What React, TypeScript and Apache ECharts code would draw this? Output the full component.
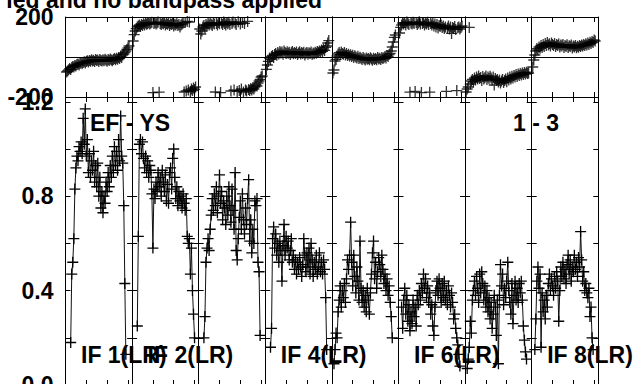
import React, { useEffect, useRef } from 'react';
import * as echarts from 'echarts';

// ---------------- data ----------------
const titleText = 'ied and no bandpass applied';
const baselineText = 'EF - YS';
const sourceText = '1 - 3';
const ifLabels = ['IF 1(LR)', 'IF 2(LR)', 'IF 4(LR)', 'IF 6(LR)', 'IF 8(LR)'];
const ifLabelPanels = [0, 1, 3, 5, 7];

const channelMin = 0;
const channelMax = 64;
const channelTickStep = 20;
const phaseMin = -200;
const phaseMax = 200;
const ampMin = 0;
const ampTickStep = 0.2;
const ampLabelStep = 0.4;

const ampStart = [5, 5, 5, 5, 2, 3, 2, 3];
const amp1 = [0.18,0.47,0.52,0.62,0.83,0.92,0.97,0.95,1.01,0.99,1.03,0.98,1.13,1.02,1.17,0.97,1.04,0.90,0.98,0.88,0.95,0.91,0.99,0.86,0.93,0.84,0.94,0.80,0.88,0.75,0.82,0.73,0.80,0.77,0.86,0.82,0.90,0.84,0.93,0.88,0.97,0.90,1.01,0.93,0.99,0.91,1.04,0.95,1.14,0.97,0.94,0.76,0.43,0.13];
const amp2 = [0.25,0.63,1.02,1.04,0.98,1.03,0.96,0.92,0.97,0.90,0.95,0.88,0.93,0.91,0.81,0.58,0.83,0.79,0.86,0.82,0.90,0.84,0.88,0.80,0.91,0.86,0.82,0.89,0.78,0.85,0.77,0.90,0.92,0.83,0.96,1.00,0.88,0.79,0.84,0.76,0.82,0.78,0.80,0.75,0.81,0.77,0.74,0.79,0.63,0.60,0.62,0.47,0.58,0.40,0.30,0.20];
const amp3 = [0.20,0.29,0.52,0.58,0.62,0.57,0.66,0.72,0.79,0.74,0.81,0.76,0.84,0.73,0.80,0.89,0.77,0.82,0.70,0.78,0.75,0.68,0.80,0.72,0.84,0.76,0.69,0.83,0.74,0.66,0.90,0.57,0.53,0.62,0.71,0.78,0.66,0.81,0.70,0.64,0.75,0.68,0.79,0.87,0.61,0.70,0.56,0.66,0.60,0.78,0.76,0.79,0.52,0.48,0.21];
const amp4 = [0.16,0.24,0.62,0.67,0.58,0.64,0.55,0.60,0.52,0.61,0.57,0.44,0.59,0.68,0.55,0.63,0.58,0.61,0.53,0.57,0.62,0.52,0.55,0.49,0.53,0.47,0.52,0.49,0.54,0.50,0.46,0.51,0.62,0.55,0.48,0.56,0.50,0.58,0.47,0.60,0.53,0.46,0.52,0.49,0.55,0.47,0.50,0.56,0.48,0.52,0.47,0.53,0.49,0.37,0.15];
const amp5 = [0.09,0.15,0.22,0.20,0.31,0.36,0.42,0.33,0.40,0.37,0.43,0.35,0.45,0.53,0.49,0.55,0.69,0.52,0.42,0.55,0.46,0.39,0.50,0.44,0.36,0.61,0.41,0.35,0.40,0.33,0.38,0.31,0.41,0.36,0.30,0.39,0.47,0.56,0.61,0.45,0.52,0.41,0.48,0.54,0.51,0.46,0.55,0.49,0.43,0.47,0.40,0.45,0.38,0.42,0.35,0.29,0.20];
const amp6 = [0.33,0.24,0.36,0.41,0.30,0.38,0.27,0.34,0.23,0.31,0.26,0.36,0.29,0.33,0.25,0.38,0.34,0.40,0.36,0.43,0.39,0.47,0.41,0.45,0.37,0.42,0.35,0.39,0.30,0.34,0.25,0.21,0.33,0.40,0.44,0.38,0.45,0.41,0.35,0.43,0.37,0.44,0.36,0.40,0.34,0.42,0.38,0.33,0.39,0.35,0.28,0.30,0.24,0.20,0.17,0.13,0.08];
const amp7 = [0.07,0.11,0.16,0.27,0.22,0.36,0.40,0.44,0.38,0.46,0.41,0.35,0.47,0.39,0.48,0.43,0.36,0.42,0.33,0.40,0.31,0.37,0.28,0.35,0.24,0.30,0.38,0.33,0.21,0.36,0.09,0.38,0.51,0.42,0.47,0.34,0.41,0.37,0.44,0.52,0.40,0.35,0.30,0.43,0.26,0.38,0.44,0.36,0.41,0.35,0.43,0.39,0.44,0.36,0.25,0.19,0.14,0.11];
const amp8 = [0.15,0.28,0.44,0.50,0.41,0.47,0.16,0.39,0.31,0.36,0.28,0.38,0.33,0.43,0.47,0.40,0.45,0.42,0.38,0.46,0.41,0.48,0.44,0.27,0.40,0.50,0.46,0.52,0.45,0.49,0.43,0.51,0.55,0.47,0.53,0.44,0.50,0.48,0.55,0.49,0.52,0.46,0.54,0.50,0.65,0.53,0.44,0.48,0.40,0.43,0.39,0.37,0.41,0.29,0.33,0.20,0.15];

const phaseStart = [1, 1, 1, 1, 1, 1, 1, 1];
const phase1 = [-75,-70,-64,-58,-62,-52,-47,-50,-42,-45,-38,-35,-40,-32,-28,-34,-27,-24,-30,-22,-19,-25,-18,-21,-14,-20,-16,-23,-13,-18,-15,-22,-12,-17,-20,-14,-19,-11,-16,-21,-13,-18,-10,-15,-19,-12,-8,-14,-6,-11,-3,-7,2,-2,10,15,22,30,38,46,55];
const phase2 = [80,112,130,142,150,155,160,152,163,158,166,160,170,164,168,172,165,170,174,-178,168,172,165,170,175,-176,168,163,170,166,172,160,168,164,170,158,166,162,168,155,164,160,167,158,163,150,160,165,170,-175,172,-170,178,-165,175,-172,-160,-168,-155,-162,-150];
const phase3 = [140,115,130,150,158,145,162,155,168,160,172,164,158,170,165,-175,168,160,172,166,-178,170,163,175,168,160,172,166,174,162,-170,168,175,-165,170,163,-172,176,-168,165,-160,172,-175,168,-165,-170,178,-162,-168,-158,-165,-155,-160,-150,-140,-145,-130,-120,-112,-100,-95];
const phase4 = [-62,-40,-22,-5,-12,3,8,-3,12,18,9,22,15,28,20,25,14,30,22,17,26,19,24,12,21,27,16,23,18,25,13,20,26,15,22,18,24,10,19,23,14,21,17,25,12,20,16,24,19,27,22,30,25,35,28,40,33,48,55,70,82];
const phase5 = [-80,-65,-20,-12,5,15,22,12,25,18,14,22,10,17,8,14,5,11,2,9,-2,6,0,-5,4,-8,-1,-6,-12,-3,-9,-15,-5,-11,-7,-14,-4,-10,-16,-6,-12,-8,-14,-3,-10,-6,-13,-2,-8,-4,2,-5,8,3,12,18,30,50,75,98,110];
const phase6 = [120,148,160,170,165,172,160,175,168,163,-176,170,165,174,168,-172,172,162,170,176,165,-178,168,172,160,170,165,174,162,-176,168,160,170,155,165,150,162,145,158,152,160,148,155,142,150,-172,145,155,140,150,118,148,142,152,138,-168,146,150,140,148,155];
const phase7 = [-175,-160,-150,148,-135,-120,-112,-125,-105,-115,-100,-110,-95,-108,-102,-118,-98,-110,-104,-95,-112,-100,-108,-96,-105,-115,-100,-140,-108,-118,-112,-125,-115,-130,-120,-112,-128,-118,-110,-124,-105,-115,-100,-110,-96,-105,-92,-100,-88,-97,-85,-93,-82,-90,-80,-88,-78,-85,-76,-82,-80];
const phase8 = [-50,-15,10,30,42,35,50,44,58,48,62,53,68,57,72,60,66,55,70,62,58,67,52,63,57,65,50,60,55,62,48,58,53,61,47,56,52,60,45,55,50,58,46,54,49,57,52,60,55,63,57,66,60,70,63,74,68,78,72,85,80];

const amps = [amp1, amp2, amp3, amp4, amp5, amp6, amp7, amp8];
const phases = [phase1, phase2, phase3, phase4, phase5, phase6, phase7, phase8];

// ---------------- layout / style ----------------
const PL = 65.5;
const PW = 66.6;
const PHASE_TOP = 17;
const PHASE_H = 80;
const AMP_TOP = 97;
const AMP_H = 288;
const AMP_PX_PER_UNIT = 236;
const FONT = '"Liberation Sans", Arial, Helvetica, sans-serif';
const FONT_SIZE = 23;
const PLUS = 'path://M0,4.4H4.4V0H5.6V4.4H10V5.6H5.6V10H4.4V5.6H0Z';

function buildOption() {
  const grid: any[] = [];
  const xAxis: any[] = [];
  const yAxis: any[] = [];
  const series: any[] = [];
  const lineStyle = { color: '#000', width: 1 };
  for (let panel = 0; panel < 2; panel++) {
    for (let i = 0; i < 8; i++) {
      const g = panel * 8 + i;
      grid.push({
        left: PL + i * PW,
        top: panel === 0 ? PHASE_TOP : AMP_TOP,
        width: PW,
        height: panel === 0 ? PHASE_H : AMP_H,
        containLabel: false,
        outerBoundsMode: 'none',
      });
      const xBase = {
        type: 'value', gridIndex: g, min: channelMin, max: channelMax, interval: channelTickStep,
        axisLine: { show: true, onZero: false, lineStyle },
        axisTick: { show: true, inside: true, length: 5, lineStyle },
        axisLabel: { show: false }, splitLine: { show: false },
      };
      xAxis.push({ ...xBase, position: 'bottom' });
      xAxis.push({ ...xBase, position: 'top' });
      const isPhase = panel === 0;
      const range = isPhase
        ? { min: phaseMin, max: phaseMax, interval: phaseMax }
        : { min: ampMin, max: AMP_H / AMP_PX_PER_UNIT, interval: ampTickStep };
      const showLabels = i === 0;
      const yBase: any = {
        type: 'value', gridIndex: g, ...range,
        axisLine: { show: true, onZero: false, lineStyle },
        axisTick: { show: true, inside: true, length: 5, lineStyle },
        splitLine: { show: false },
      };
      yAxis.push({
        ...yBase,
        position: 'left',
        splitLine: { show: isPhase, lineStyle },
        axisLabel: {
          show: showLabels, margin: 12, color: '#000', fontSize: FONT_SIZE, fontWeight: 'bold', fontFamily: FONT,
          showMinLabel: true, showMaxLabel: true,
          formatter: isPhase
            ? (v: number) => (v === 0 ? '' : String(v))
            : (v: number) => {
                const r = v / ampLabelStep;
                return Math.abs(r - Math.round(r)) < 1e-6 ? v.toFixed(1) : '';
              },
        },
      });
      yAxis.push({ ...yBase, position: 'right', axisLabel: { show: false } });

      if (isPhase) {
        series.push({
          type: 'scatter', xAxisIndex: 2 * g, yAxisIndex: 2 * g,
          data: phases[i].map((v, k) => [phaseStart[i] + k, v]),
          symbol: PLUS, symbolSize: 11, itemStyle: { color: '#000' }, silent: true,
        });
      } else {
        series.push({
          type: 'line', xAxisIndex: 2 * g, yAxisIndex: 2 * g,
          data: amps[i].map((v, k) => [ampStart[i] + k, v]),
          symbol: PLUS, symbolSize: 11, showSymbol: true, showAllSymbol: true,
          lineStyle: { color: '#111', width: 1 }, itemStyle: { color: '#000' }, silent: true,
        });
      }
    }
  }

  const font = `bold ${FONT_SIZE}px ${FONT}`;
  const graphic: any[] = [
    { type: 'text', x: 322, y: 0, style: { text: titleText, font, fill: '#000', textAlign: 'right', textVerticalAlign: 'middle' } },
    { type: 'text', x: 90, y: 123, style: { text: baselineText, font, fill: '#000', textAlign: 'left', textVerticalAlign: 'middle' } },
    { type: 'text', x: 513, y: 123, style: { text: sourceText, font, fill: '#000', textAlign: 'left', textVerticalAlign: 'middle' } },
  ];
  ifLabels.forEach((t, k) => {
    graphic.push({
      type: 'text', x: PL + ifLabelPanels[k] * PW + 15.5, y: 355,
      style: { text: t, font, fill: '#000', textAlign: 'left', textVerticalAlign: 'middle' },
    });
  });

  return {
    animation: false,
    backgroundColor: '#fff',
    textStyle: { fontFamily: FONT },
    grid, xAxis, yAxis, series, graphic,
  };
}

export default function App() {
  const ref = useRef<HTMLDivElement>(null);
  useEffect(() => {
    if (!ref.current) return;
    const chart = echarts.init(ref.current, null, { renderer: 'svg' });
    chart.setOption(buildOption() as any);
    return () => chart.dispose();
  }, []);
  return <div ref={ref} style={{ position: 'fixed', left: 0, top: 0, width: 635, height: 384 }} />;
}
